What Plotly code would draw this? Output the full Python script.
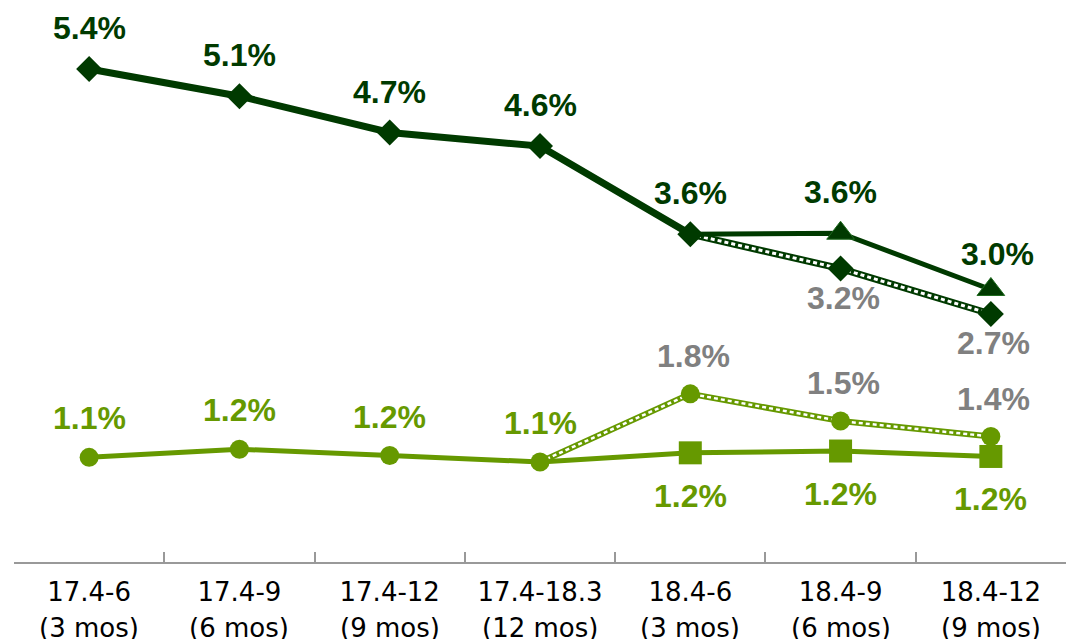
import plotly.graph_objects as go

tick_line1 = ["17.4-6", "17.4-9", "17.4-12", "17.4-18.3", "18.4-6", "18.4-9", "18.4-12"]
tick_line2 = ["(3 mos)", "(6 mos)", "(9 mos)", "(12 mos)", "(3 mos)", "(6 mos)", "(9 mos)"]
categories = tick_line1

# dark series (diamonds): actual then forecast (dotted)
dark_actual = [5.4, 5.1, 4.7, 4.55, 3.58]
dark_actual_labels = ["5.4%", "5.1%", "4.7%", "4.6%", "3.6%"]
dark_fore = [3.58, 3.2, 2.7]
dark_fore_labels = ["3.2%", "2.7%"]
# dark triangles (solid continuation)
dark_tri = [3.58, 3.59, 2.97]
dark_tri_labels = ["3.6%", "3.0%"]

# light series (circles): actual then dotted
light_actual = [1.12, 1.21, 1.14, 1.07]
light_actual_labels = ["1.1%", "1.2%", "1.2%", "1.1%"]
light_fore = [1.07, 1.82, 1.52, 1.35]
light_fore_labels = ["1.8%", "1.5%", "1.4%"]
# light squares
light_sq = [1.07, 1.17, 1.19, 1.13]
light_sq_labels = ["1.2%", "1.2%", "1.2%"]

DARK = "#003A00"
LIGHT = "#669900"
GRAY = "#808080"

fig = go.Figure()

# dark dotted forecast
fig.add_trace(go.Scatter(x=categories[4:], y=dark_fore, mode="lines",
                         line=dict(color=DARK, width=7)))
fig.add_trace(go.Scatter(x=categories[4:], y=dark_fore, mode="lines",
                         line=dict(color="white", width=3, dash="4px,3px")))
fig.add_trace(go.Scatter(x=categories[5:], y=dark_fore[1:], mode="markers",
                         marker=dict(symbol="diamond", size=20, color=DARK)))
# dark triangles
fig.add_trace(go.Scatter(x=categories[4:], y=dark_tri, mode="lines",
                         line=dict(color=DARK, width=5)))
fig.add_trace(go.Scatter(x=categories[5:], y=dark_tri[1:], mode="markers",
                         marker=dict(symbol="triangle-up", size=24, color=DARK,
                                     line=dict(color="#1f6b1f", width=1))))
# dark actual
fig.add_trace(go.Scatter(x=categories[:5], y=dark_actual, mode="lines+markers",
                         line=dict(color=DARK, width=7),
                         marker=dict(symbol="diamond", size=20, color=DARK)))

# light dotted
fig.add_trace(go.Scatter(x=categories[3:], y=light_fore, mode="lines",
                         line=dict(color=LIGHT, width=6)))
fig.add_trace(go.Scatter(x=categories[3:], y=light_fore, mode="lines",
                         line=dict(color="white", width=2.5, dash="4px,3px")))
fig.add_trace(go.Scatter(x=categories[4:], y=light_fore[1:], mode="markers",
                         marker=dict(symbol="circle", size=19, color=LIGHT)))
# light squares
fig.add_trace(go.Scatter(x=categories[3:], y=light_sq, mode="lines",
                         line=dict(color=LIGHT, width=5)))
fig.add_trace(go.Scatter(x=categories[4:], y=light_sq[1:], mode="markers",
                         marker=dict(symbol="square", size=23, color=LIGHT)))
# light actual
fig.add_trace(go.Scatter(x=categories[:4], y=light_actual, mode="lines+markers",
                         line=dict(color=LIGHT, width=5),
                         marker=dict(symbol="circle", size=19, color=LIGHT)))

LABEL_FONT = "Liberation Sans, Arial, sans-serif"
TICK_FONT = dict(family="DejaVu Sans, Verdana, sans-serif", size=26, color="#000000")
annotations = []

def add_labels(xs, ys, texts, color, yshift, xshift=0):
    for x, y, t in zip(xs, ys, texts):
        annotations.append(dict(x=x, y=y, text="<b>%s</b>" % t, showarrow=False,
                                yshift=yshift, xshift=xshift,
                                font=dict(family=LABEL_FONT, size=32, color=color)))

add_labels(categories[:5], dark_actual, dark_actual_labels, DARK, 41)
add_labels(categories[5:], dark_fore[1:], dark_fore_labels, GRAY, -29, 3)
add_labels(categories[5:6], dark_tri[1:2], dark_tri_labels[:1], DARK, 41)
add_labels(categories[6:], dark_tri[2:], dark_tri_labels[1:], DARK, 35, 7)
add_labels(categories[:4], light_actual, light_actual_labels, LIGHT, 39)
add_labels(categories[4:], light_fore[1:], light_fore_labels, GRAY, 38, 3)
add_labels(categories[4:], light_sq[1:], light_sq_labels, LIGHT, -43)

# second line of the category labels
for c, t in zip(categories, tick_line2):
    annotations.append(dict(x=c, y=0, yref="paper", yanchor="middle", text=t,
                            showarrow=False, yshift=-66, font=TICK_FONT))

fig.update_layout(
    width=1068, height=631,
    margin=dict(l=6, r=10, t=2, b=77, autoexpand=False),
    plot_bgcolor="white", paper_bgcolor="white",
    showlegend=False,
    annotations=annotations,
    xaxis=dict(type="category", categoryorder="array", categoryarray=categories,
               range=[-0.5, 6.5], autorange=False,
               tickson="boundaries", ticks="inside", ticklen=10, tickcolor="#999999",
               tickwidth=1.5, showline=True, linecolor="#999999", linewidth=1.5,
               showgrid=False, zeroline=False, automargin=False,
               ticklabelstandoff=6, tickfont=TICK_FONT),
    yaxis=dict(visible=False, range=[-0.033, 6.05], showgrid=False, zeroline=False),
)

fig.write_html("out.html")
